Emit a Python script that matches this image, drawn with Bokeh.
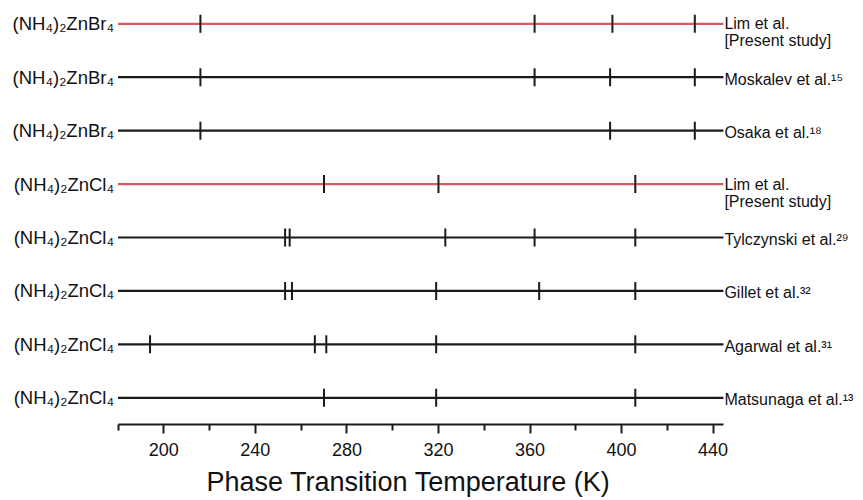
import numpy as np
from bokeh.plotting import figure
from bokeh.models import ColumnDataSource, LabelSet, FixedTicker, Range1d, Title
from bokeh.core.properties import value
from bokeh.embed import file_html
from bokeh.resources import INLINE

# ---- data (top row first) ----
compounds = ["(NH₄)₂ZnBr₄", "(NH₄)₂ZnBr₄", "(NH₄)₂ZnBr₄",
             "(NH₄)₂ZnCl₄", "(NH₄)₂ZnCl₄", "(NH₄)₂ZnCl₄", "(NH₄)₂ZnCl₄", "(NH₄)₂ZnCl₄"]
references = ["Lim et al.\n[Present study]", "Moskalev et al.¹⁵", "Osaka et al.¹⁸",
              "Lim et al.\n[Present study]", "Tylczynski et al.²⁹", "Gillet et al.³²",
              "Agarwal et al.³¹", "Matsunaga et al.¹³"]
present_study = [True, False, False, True, False, False, False, False]
transitions = [
    [216, 362, 396, 432],
    [216, 362, 395, 432],
    [216, 395, 432],
    [270, 320, 406],
    [253, 255, 323, 362, 406],
    [253, 256, 319, 364, 406],
    [194, 266, 271, 319, 406],
    [270, 319, 406],
]
major_ticks = [200, 240, 280, 320, 360, 400, 440]
minor_ticks = [180, 220, 260, 300, 340, 380, 420]
axis_min, axis_max = 180, 444.5
x_title = "Phase Transition Temperature (K)"

RED = "#d65a66"
BLACK = "#1a1a1a"
FONT = "Liberation Sans"

n = len(compounds)
row_y = [n - i for i in range(n)]
row_color = [RED if ps else BLACK for ps in present_study]

p = figure(frame_width=863, frame_height=424,
           x_range=Range1d(128.66, 505.7), y_range=Range1d(0.5, n + 0.436),
           output_backend="svg", toolbar_location=None,
           min_border=0, y_axis_location=None)
p.outline_line_color = None
p.grid.visible = False

# horizontal lines
line_src = ColumnDataSource(dict(x0=[axis_min] * n, x1=[axis_max] * n, y=row_y, c=row_color))
p.segment(x0="x0", y0="y", x1="x1", y1="y", source=line_src, line_color="c", line_width=2.2)

# transition marks
tx, ty = [], []
for y, ts in zip(row_y, transitions):
    for t in ts:
        tx.append(t)
        ty.append(y)
p.scatter(x=tx, y=ty, marker="dash", size=18, angle=np.pi / 2,
          line_color=BLACK, line_width=2)

# left labels
left_src = ColumnDataSource(dict(x=[axis_min] * n, y=row_y, t=compounds))
p.add_layout(LabelSet(x="x", y="y", text="t", source=left_src, x_offset=-4,
                      text_align="right", text_baseline="middle",
                      text_font=value(FONT), text_font_size=value("18.5px"),
                      text_color="#111111"))

# right labels
rx, ry, rt, roff = [], [], [], []
for y, ref in zip(row_y, references):
    parts = ref.split("\n")
    for k, part in enumerate(parts):
        rx.append(axis_max)
        ry.append(y)
        rt.append(part)
        roff.append(-17 * k if len(parts) > 1 else -2)
right_src = ColumnDataSource(dict(x=rx, y=ry, t=rt, yo=roff))
p.add_layout(LabelSet(x="x", y="y", text="t", source=right_src, x_offset=1, y_offset="yo",
                      text_align="left", text_baseline="middle",
                      text_font=value(FONT), text_font_size=value("16px"),
                      text_color="#111111"))

# x axis
ax = p.xaxis[0]
ax.bounds = (axis_min, axis_max)
ax.ticker = FixedTicker(ticks=major_ticks, minor_ticks=minor_ticks)
ax.axis_line_width = 2
ax.axis_line_color = BLACK
ax.major_tick_line_width = 2
ax.major_tick_line_color = BLACK
ax.major_tick_out = 9
ax.major_tick_in = 0
ax.minor_tick_line_width = 2
ax.minor_tick_line_color = BLACK
ax.minor_tick_out = 6
ax.minor_tick_in = 0
ax.major_label_text_font = FONT
ax.major_label_text_font_size = "18px"
ax.major_label_text_color = "#111111"
ax.major_label_standoff = 9

# axis title, placed under the axis
p.add_layout(Title(text=x_title, align="left", offset=206, standoff=12,
                   text_font=FONT, text_font_size="27px", text_font_style="normal",
                   text_color="#111111"), "below")

open("out.html", "w").write(file_html(p, INLINE))
